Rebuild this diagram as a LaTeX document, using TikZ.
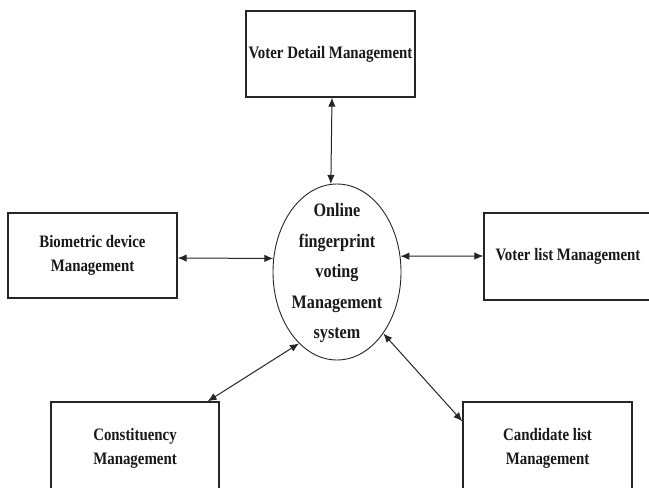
\documentclass[tikz,border=0pt]{standalone}
\usepackage{fontspec}
\setmainfont{Liberation Serif}[FakeStretch=0.85]
\usetikzlibrary{shapes.geometric,arrows.meta}
\begin{document}
\begin{tikzpicture}[x=1pt,y=-1pt,
  mbox/.style={draw=black!85, line width=1.3pt, minimum width=169pt, minimum height=86pt, inner sep=0pt, align=center, font=\bfseries\fontsize{17.5}{24}\selectfont, text=black!90},
  dbl/.style={{Latex[length=9pt,width=7.5pt]}-{Latex[length=9pt,width=7.5pt]}, line width=1pt, draw=black!85},
  elltxt/.style={align=center, font=\bfseries\fontsize{19}{30.5}\selectfont, text=black!90}]
\clip (0,0) rectangle (649,488);
\fill[white] (0,0) rectangle (649,488);
\node[mbox] (top) at (330.5,54) {Voter Detail Management};
\node[mbox, minimum height=85pt] (lb) at (92.5,255.5) {Biometric device\\Management};
\node[mbox, minimum width=168pt, minimum height=87pt] (rb) at (568,256.5) {Voter list Management};
\node[mbox, minimum width=168pt, minimum height=92pt] (bl) at (135,448) {Constituency\\Management};
\node[mbox, minimum width=169pt, minimum height=92pt] (br) at (547.5,448) {Candidate list\\Management};
\node[ellipse, draw=black!85, line width=0.9pt, minimum width=128pt, minimum height=176pt, inner sep=0pt] (ell) at (337,272) {};
\node[elltxt] (elltext) at (337,273) {Online\\fingerprint\\voting\\Management\\system};
\draw[dbl] ([xshift=1.5pt]top.south) -- (ell.94);
\draw[dbl] ([yshift=-2.5pt]lb.east) -- (ell.168);
\draw[dbl] (ell.14) -- ([yshift=0.5pt]rb.west);
\draw[dbl] (ell.242) -- ([xshift=-12pt]bl.north east);
\draw[dbl] (ell.-53) -- ([yshift=-20pt]br.north west);
\end{tikzpicture}
\end{document}
